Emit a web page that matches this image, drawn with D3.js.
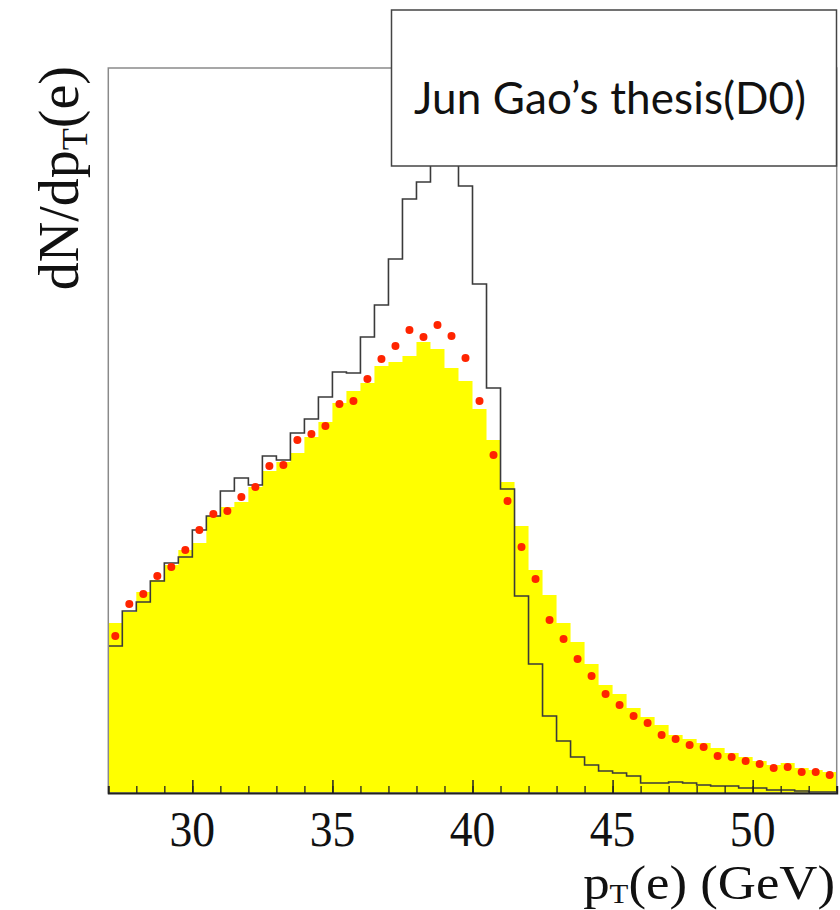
<!DOCTYPE html>
<html>
<head>
<meta charset="utf-8">
<script src="https://cdn.jsdelivr.net/npm/d3@7"></script>
<style>
  body { margin: 0; background: #fff; }
</style>
</head>
<body>
<script>
// bins: 0.5 GeV wide, 27 -> 53 GeV
let binLow = d3.range(27, 53, 0.5);

// yellow filled histogram
let fillVals = [170, 181, 201, 213, 228, 243, 250, 277, 286, 291, 306, 322, 331, 340, 356, 371,
    390, 402, 410, 427, 431, 437, 451, 444, 425, 412, 384, 353, 311, 267, 223, 198,
    170, 151, 129, 108, 99, 85, 76, 68, 58, 54, 50, 45, 40, 36, 32, 28, 30, 25, 23, 21];

// red points
let dotVals = [157, 189, 199, 217, 226, 243, 263, 279, 282, 296, 306, 327, 328, 353, 359, 367,
    389, 392, 414, 434, 447, 463, 456, 468, 457, 435, 392, 338, 292, 246, 214, 173,
    154, 134, 117, 99, 88, 77, 70, 58, 54, 48, 46, 37, 36, 32, 29, 25, 26, 21, 21, 18];

// black outline histogram (peak bins sit behind the label box)
let lineVals = [147, 182, 191, 212, 230, 236, 263, 277, 302, 315, 308, 337, 333, 360, 374, 396,
    421, 420, 456, 488, 534, 594, 611, 683, 668, 607, 509, 405, 304, 197, 129, 77,
    52, 36, 28, 22, 20, 17, 10, 10, 11, 10, 8, 7, 7, 5, 5, 3, 3, 2, 1, 1];

let xTicks = [30, 35, 40, 45, 50];

let width = 840, height = 910;
let plotL = 108.3, plotR = 836.7, plotT = 68, plotB = 793;

let svg = d3.select("body").append("svg")
    .attr("width", width)
    .attr("height", height);

let x = d3.scaleLinear().domain([27, 53]).range([plotL, plotR]);
let y = d3.scaleLinear().domain([0, 725]).range([plotB, plotT]);

function steps(vals) {
    let pts = binLow.map((b, i) => [b, vals[i]]);
    pts.push([53, vals[vals.length - 1]]);
    return pts;
}

// yellow histogram
svg.append("path")
    .datum(steps(fillVals))
    .attr("d", d3.area()
        .curve(d3.curveStepAfter)
        .x(d => x(d[0]))
        .y0(y(0))
        .y1(d => y(d[1])))
    .style("fill", "#ffff00");

// black outline histogram
svg.append("path")
    .datum(steps(lineVals))
    .attr("d", d3.line()
        .curve(d3.curveStepAfter)
        .x(d => x(d[0]))
        .y(d => y(d[1])))
    .style("fill", "none")
    .style("stroke", "#3a3a3a")
    .style("stroke-width", 1.6);

// red points at bin centres
svg.append("g")
    .selectAll("circle")
    .data(dotVals)
    .enter().append("circle")
    .attr("cx", (d, i) => x(binLow[i] + 0.25))
    .attr("cy", d => y(d))
    .attr("r", 4)
    .style("fill", "#ff2400");

// frame
svg.append("rect")
    .attr("x", plotL)
    .attr("y", plotT)
    .attr("width", plotR - plotL)
    .attr("height", plotB - plotT)
    .style("fill", "none")
    .style("stroke", "#8a8a8a")
    .style("stroke-width", 1.5);

// bottom axis, ticks pointing inside
let xAxis = d3.axisTop(x)
    .tickValues(d3.range(28, 54, 1))
    .tickSize(7)
    .tickFormat("");
svg.append("g")
    .attr("transform", `translate(0,${plotB})`)
    .call(xAxis)
    .call(g => g.select(".domain").attr("stroke", "#222").attr("stroke-width", 2))
    .call(g => g.selectAll(".tick line").attr("stroke", "#222").attr("stroke-width", 1.3));

svg.append("g")
    .attr("transform", `translate(0,${plotB})`)
    .call(d3.axisTop(x).tickValues(xTicks).tickSize(13).tickFormat(""))
    .call(g => g.select(".domain").remove())
    .call(g => g.selectAll(".tick line").attr("stroke", "#222").attr("stroke-width", 1.5));

svg.append("g")
    .selectAll("text")
    .data(xTicks)
    .enter().append("text")
    .attr("transform", d => `translate(${x(d)},846) scale(0.95,1.05)`)
    .attr("text-anchor", "middle")
    .style("font-family", "Liberation Serif, serif")
    .style("font-size", "48px")
    .style("fill", "#111")
    .text(d => d);

// x title
let xt = svg.append("text")
    .attr("transform", "translate(835,899) scale(1.1,1)")
    .attr("text-anchor", "end")
    .style("font-family", "Liberation Serif, serif")
    .style("font-size", "48px")
    .style("fill", "#111");
xt.append("tspan").text("p");
xt.append("tspan").attr("dy", 4).style("font-size", "28px").text("T");
xt.append("tspan").attr("dy", -4).text("(e) (GeV)");

// y title
let yt = svg.append("text")
    .attr("transform", "translate(78,66) rotate(-90)")
    .attr("text-anchor", "end")
    .style("font-family", "Liberation Serif, serif")
    .style("font-size", "56px")
    .style("fill", "#111");
yt.append("tspan").text("dN/dp");
yt.append("tspan").attr("dy", 9).style("font-size", "36px").text("T");
yt.append("tspan").attr("dy", -9).text("(e)");

// label box
svg.append("rect")
    .attr("x", 391.5)
    .attr("y", 10)
    .attr("width", 445)
    .attr("height", 156)
    .style("fill", "#fff")
    .style("stroke", "#444")
    .style("stroke-width", 1.5);

svg.append("text")
    .attr("x", 414)
    .attr("y", 114)
    .attr("textLength", 392)
    .style("font-family", "Lato, sans-serif")
    .style("font-size", "44px")
    .style("fill", "#111")
    .text("Jun Gao\u2019s thesis(D0)");
</script>
</body>
</html>
